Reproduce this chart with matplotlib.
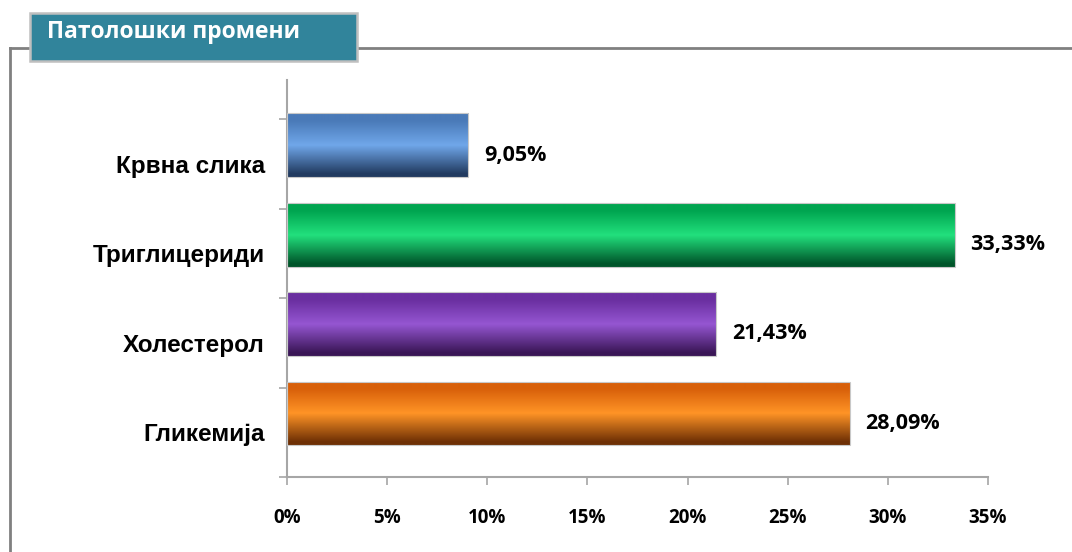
import numpy as np
import matplotlib.pyplot as plt
from matplotlib.colors import LinearSegmentedColormap
from matplotlib.patches import Rectangle

categories = ['Гликемија', 'Холестерол', 'Триглицериди', 'Крвна слика']
values = [28.09, 21.43, 33.33, 9.05]
labels = ['28,09%', '21,43%', '33,33%', '9,05%']
ticks = [0, 5, 10, 15, 20, 25, 30, 35]

# top / middle / bottom shades of each bar
shades = [
    ('#d8600a', '#ff9426', '#6e3005'),
    ('#6a2fa0', '#9556d2', '#3a1656'),
    ('#00a550', '#22e07d', '#00552a'),
    ('#4a7ab8', '#70a7ea', '#223b60'),
]

plt.rcParams['font.family'] = ['Open Sans', 'DejaVu Sans']

fig = plt.figure(figsize=(10.72, 5.52), dpi=100)
ax = fig.add_axes([287 / 1072, 75 / 552, 701 / 1072, 397 / 552])

y = np.arange(len(categories))
offset = 0.21
bars = ax.barh(y + offset, values, height=0.715, color='none', edgecolor='none')

for bar, (top, mid, bot) in zip(bars, shades):
    cmap = LinearSegmentedColormap.from_list('g', [(0, bot), (0.05, bot), (0.5, mid),
                                                   (0.88, top), (1, top)])
    grad = np.linspace(0, 1, 256).reshape(-1, 1)
    x0, y0 = bar.get_x(), bar.get_y()
    w, h = bar.get_width(), bar.get_height()
    im = ax.imshow(grad, cmap=cmap, aspect='auto', origin='lower',
                   extent=(x0, x0 + w, y0, y0 + h), zorder=2)
    clip = Rectangle((x0, y0), w, h, transform=ax.transData, facecolor='none')
    im.set_clip_path(clip)
    ax.add_patch(Rectangle((x0, y0), w, h, facecolor='none', edgecolor='#c8c8c8',
                           linewidth=0.8, zorder=3))

for yy, v, lab in zip(y, values, labels):
    ax.text(v + 0.8, yy + 0.1, lab, va='center', ha='left', fontsize=15.5,
            fontweight='bold', color='black')

ax.set_xlim(0, 35)
ax.set_ylim(-0.5, 3.94)
ax.set_xticks(ticks)
ax.set_xticklabels([f'{t}%' for t in ticks], fontsize=13.5, fontweight='bold')
ax.set_yticks(y)
ax.set_yticklabels(categories, fontsize=17.5, fontweight='bold',
                   family=['Liberation Sans', 'DejaVu Sans'])
ax.set_yticks(np.arange(-0.5, 4, 1), minor=True)
ax.tick_params(axis='y', which='major', length=0, pad=16)
ax.tick_params(axis='y', which='minor', length=6, color='#a6a6a6', width=1.2)
ax.tick_params(axis='x', length=6, color='#a6a6a6', width=1.2, pad=16)

for s in ['top', 'right']:
    ax.spines[s].set_visible(False)
for s in ['left', 'bottom']:
    ax.spines[s].set_color('#a6a6a6')
    ax.spines[s].set_linewidth(1.5)

# outer frame lines
fig.add_artist(plt.Line2D([10 / 1072, 10 / 1072], [0, 1 - 48 / 552], color='#808080', lw=2))
fig.add_artist(plt.Line2D([10 / 1072, 1], [1 - 48 / 552, 1 - 48 / 552], color='#808080', lw=2))

# title box
fig.add_artist(Rectangle((30 / 1072, 1 - 61 / 552), 327 / 1072, 48 / 552,
                         transform=fig.transFigure, facecolor='#31849b',
                         edgecolor='#bfbfbf', linewidth=1.8, zorder=5))
fig.text(47 / 1072, 1 - 32 / 552, 'Патолошки промени', color='white', fontsize=16.5,
         fontweight='bold', va='center', ha='left', zorder=6)

fig.savefig('out.png', dpi=100)
